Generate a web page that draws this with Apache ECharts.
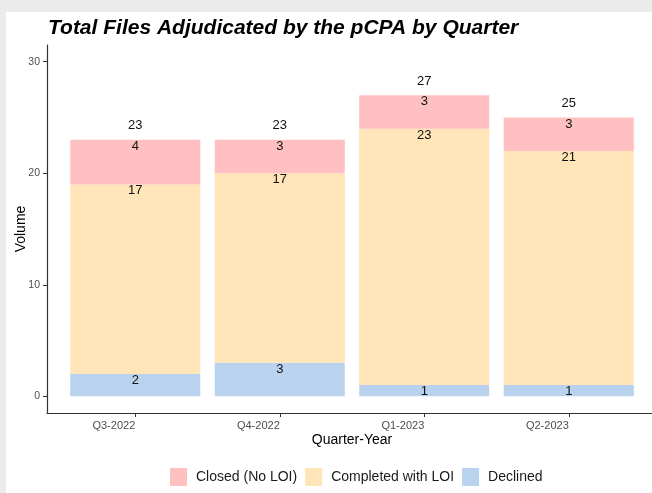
<!DOCTYPE html>
<html>
<head>
<meta charset="utf-8">
<script src="https://cdn.jsdelivr.net/npm/echarts@6/dist/echarts.min.js"></script>
<style>
  html, body { margin: 0; padding: 0; background: #ebebeb; }
  #wrap { position: relative; width: 652px; height: 493px; }
  #paper { position: absolute; left: 6px; top: 12px; right: 0; bottom: 0; background: #fff; }
  #main { position: absolute; left: 0; top: 0; width: 652px; height: 493px; }
</style>
</head>
<body>
<div id="wrap">
  <div id="paper"></div>
  <div id="main"></div>
</div>
<script>
// chart data
var quarters = ['Q3-2022', 'Q4-2022', 'Q1-2023', 'Q2-2023'];
var declinedFiles = [2, 3, 1, 1];
var completedFiles = [17, 17, 23, 21];
var closedFiles = [4, 3, 3, 3];   // note: "closed" is taken by window.closed
var totalFiles = [23, 23, 27, 25];
var yTicks = [0, 10, 20, 30];

var font = 'Liberation Sans, Arial, sans-serif';

function segment(name, data, color) {
  return {
    name: name,
    type: 'bar',
    stack: 'files',
    xAxisIndex: 0,
    yAxisIndex: 0,
    barWidth: '90%',
    data: data,
    itemStyle: { color: color },
    label: {
      show: true,
      position: 'insideTop',
      distance: 0,
      color: '#111',
      fontSize: 13,
      fontFamily: font
    }
  };
}

var option = {
  animation: false,
  title: {
    text: 'Total Files Adjudicated by the pCPA by Quarter',
    left: 43,
    top: 13,
    textStyle: {
      fontFamily: font,
      fontSize: 21,
      fontWeight: 'bold',
      fontStyle: 'italic',
      color: '#000'
    }
  },
  legend: {
    data: ['Closed (No LOI)', 'Completed with LOI', 'Declined'],
    left: 170,
    top: 468,
    padding: 0,
    itemWidth: 17,
    itemHeight: 18,
    itemGap: 8,
    icon: 'rect',
    textStyle: { fontFamily: font, fontSize: 14, color: '#1a1a1a', padding: [0, 0, 0, 4] }
  },
  grid: [
    // bars
    { left: 63, right: 11, top: 45, bottom: 80, outerBoundsMode: 'none' },
    // axis frame (ggplot expands 0.6 of a band on each side)
    { left: 47, right: -2, top: 45, bottom: 80, outerBoundsMode: 'none' }
  ],
  xAxis: [
    {
      type: 'category',
      gridIndex: 0,
      data: quarters,
      axisLine: { show: false, onZero: false },
      axisTick: { show: true, alignWithLabel: true, length: 4, lineStyle: { color: '#333' } },
      axisLabel: { align: 'right', margin: 7, color: '#4d4d4d', fontSize: 11, fontFamily: font },
      name: 'Quarter-Year',
      nameLocation: 'middle',
      nameGap: 20,
      nameMoveOverlap: false,
      nameTextStyle: { fontFamily: font, fontSize: 14, color: '#000' }
    },
    {
      type: 'value',
      gridIndex: 1,
      min: 0,
      max: 1,
      axisLine: { show: true, onZero: false, lineStyle: { color: '#333', width: 1.2 } },
      axisTick: { show: false },
      axisLabel: { show: false },
      splitLine: { show: false }
    }
  ],
  yAxis: [
    {
      type: 'value',
      gridIndex: 0,
      min: -1.5,
      max: 31.5,
      show: false
    },
    {
      type: 'value',
      gridIndex: 1,
      min: -1.5,
      max: 31.5,
      axisLine: { show: true, onZero: false, lineStyle: { color: '#333', width: 1.2 } },
      axisTick: { show: true, length: 4, customValues: yTicks, lineStyle: { color: '#333' } },
      axisLabel: { customValues: yTicks, margin: 7, color: '#4d4d4d', fontSize: 10.5, fontFamily: font },
      splitLine: { show: false },
      name: 'Volume',
      nameLocation: 'middle',
      nameGap: 19,
      nameMoveOverlap: false,
      nameTextStyle: { fontFamily: font, fontSize: 14, color: '#000' }
    }
  ],
  series: [
    segment('Declined', declinedFiles, '#b9d2ee'),
    segment('Completed with LOI', completedFiles, '#ffe5b8'),
    segment('Closed (No LOI)', closedFiles, '#ffc0c1'),
    {
      name: 'Total',
      type: 'line',
      xAxisIndex: 0,
      yAxisIndex: 0,
      data: totalFiles,
      symbol: 'circle',
      symbolSize: 1,
      lineStyle: { width: 0, opacity: 0 },
      itemStyle: { color: 'rgba(0,0,0,0)' },
      label: {
        show: true,
        position: 'top',
        distance: 7,
        color: '#111',
        fontSize: 13,
        fontFamily: font
      }
    }
  ]
};

var chart = echarts.init(document.getElementById('main'));
chart.setOption(option);
</script>
</body>
</html>
